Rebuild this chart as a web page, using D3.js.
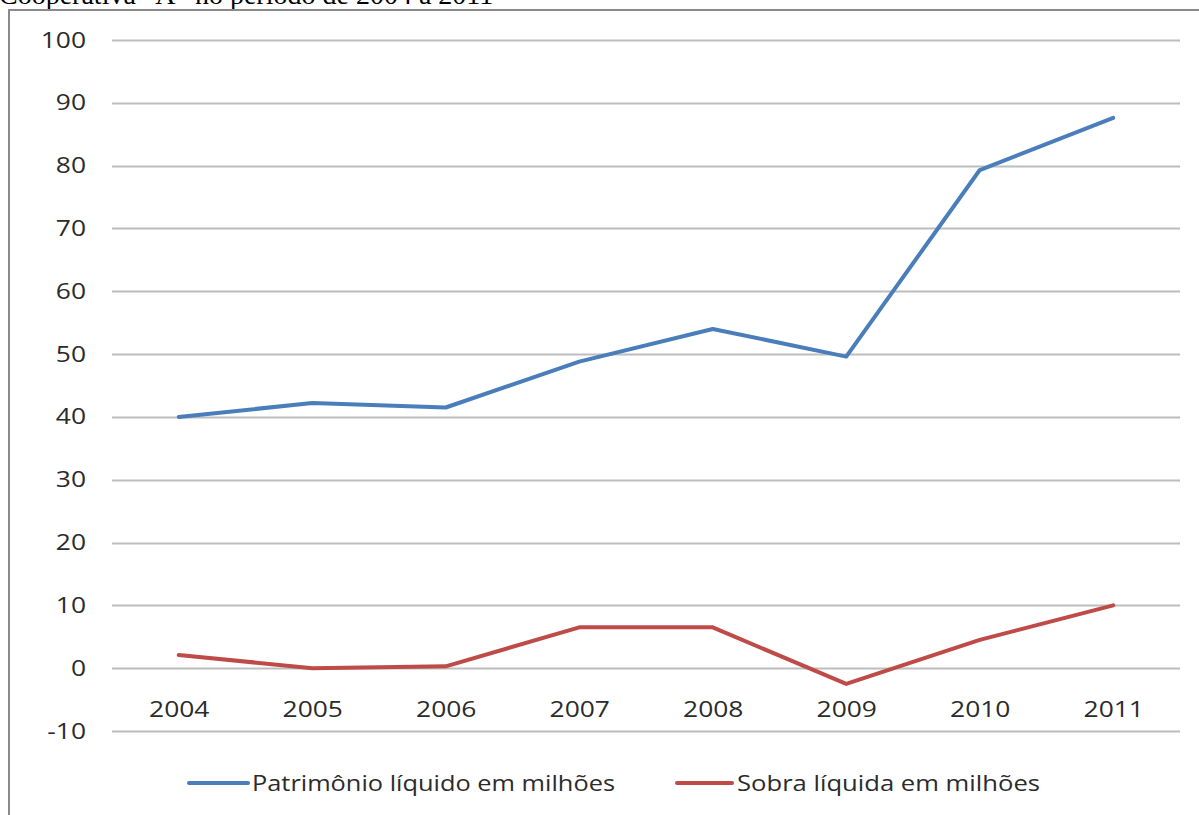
<!DOCTYPE html>
<html>
<head>
<meta charset="utf-8">
<script src="https://cdn.jsdelivr.net/npm/d3@7"></script>
<style>
  html, body { margin: 0; padding: 0; background: #fff; }
  svg { display: block; }
</style>
</head>
<body>
<script>
// Patrimônio líquido e sobra líquida, 2004–2011 (milhões)
const years = ["2004", "2005", "2006", "2007", "2008", "2009", "2010", "2011"];
const patrimonio = [40, 42.2, 41.5, 48.8, 54, 49.6, 79.3, 87.6];
const sobra = [2.1, 0, 0.3, 6.5, 6.5, -2.5, 4.5, 10];
const yTicks = [-10, 0, 10, 20, 30, 40, 50, 60, 70, 80, 90, 100];
const seriesNames = ["Patrimônio líquido em milhões", "Sobra líquida em milhões"];
const seriesColors = ["#4A7EBB", "#BE4B48"];
const caption = "Cooperativa \u201CA\u201D no período de 2004 a 2011";

const W = 1199, H = 815;
const svg = d3.select("body").append("svg").attr("width", W).attr("height", H);

// caption above the frame (its upper half runs off the page)
svg.append("text")
  .attr("x", -1).attr("y", 4)
  .attr("font-family", "Liberation Serif, Times New Roman, serif")
  .attr("font-size", 28)
  .attr("fill", "#000")
  .text(caption);

// chart frame
svg.append("rect")
  .attr("x", 9).attr("y", 10)
  .attr("width", 1200).attr("height", 820)
  .attr("fill", "#fff")
  .attr("stroke", "#8a8a8a")
  .attr("stroke-width", 2);

const plot = { left: 112, right: 1180, top: 40, bottom: 731 };

const x = d3.scalePoint()
  .domain(years)
  .range([plot.left, plot.right])
  .padding(0.5);

const y = d3.scaleLinear()
  .domain([-10, 100])
  .range([plot.bottom, plot.top]);

const font = "'Open Sans', 'Liberation Sans', sans-serif";
const fontSize = 22;
const stretch = "scale(1.2,1)";

// horizontal gridlines
svg.append("g")
  .selectAll("line")
  .data(yTicks)
  .join("line")
  .attr("x1", plot.left).attr("x2", plot.right)
  .attr("y1", d => Math.round(y(d)) + 0.5)
  .attr("y2", d => Math.round(y(d)) + 0.5)
  .attr("stroke", "#bdbdbd")
  .attr("stroke-width", 2);

// y axis labels
const yAxis = d3.axisLeft(y).tickValues(yTicks).tickSize(0).tickPadding(0)
  .tickFormat(d => String(d));
const gy = svg.append("g")
  .attr("transform", `translate(${plot.left - 26},0)`)
  .call(yAxis);
gy.select(".domain").remove();
gy.selectAll("text")
  .attr("font-family", font)
  .attr("font-size", fontSize)
  .attr("fill", "#2b2b2b")
  .attr("transform", stretch);

// x axis labels under the zero line
const xAxis = d3.axisBottom(x).tickSize(0).tickPadding(0);
const gx = svg.append("g")
  .attr("transform", `translate(0,${y(0) + 49})`)
  .call(xAxis);
gx.select(".domain").remove();
gx.selectAll("text")
  .attr("y", 0)
  .attr("dy", 0)
  .attr("font-family", font)
  .attr("font-size", fontSize)
  .attr("fill", "#2b2b2b")
  .attr("transform", stretch);

// series lines
const line = d3.line()
  .x((d, i) => x(years[i]))
  .y(d => y(d));

[patrimonio, sobra].forEach((vals, k) => {
  svg.append("path")
    .datum(vals)
    .attr("d", line)
    .attr("fill", "none")
    .attr("stroke", seriesColors[k])
    .attr("stroke-width", 4)
    .attr("stroke-linejoin", "round")
    .attr("stroke-linecap", "round");
});

// legend
const legendItems = [
  { x0: 189, x1: 248, tx: 252, len: 363 },
  { x0: 677, x1: 732, tx: 737, len: 303 }
];
const legendY = 783;
const lg = svg.append("g");
legendItems.forEach((it, k) => {
  lg.append("line")
    .attr("x1", it.x0).attr("x2", it.x1)
    .attr("y1", legendY).attr("y2", legendY)
    .attr("stroke", seriesColors[k])
    .attr("stroke-width", 4)
    .attr("stroke-linecap", "round");
  lg.append("text")
    .attr("x", it.tx).attr("y", legendY + 8)
    .attr("font-family", font)
    .attr("font-size", fontSize)
    .attr("fill", "#2b2b2b")
    .attr("textLength", it.len)
    .attr("lengthAdjust", "spacingAndGlyphs")
    .text(seriesNames[k]);
});
</script>
</body>
</html>
